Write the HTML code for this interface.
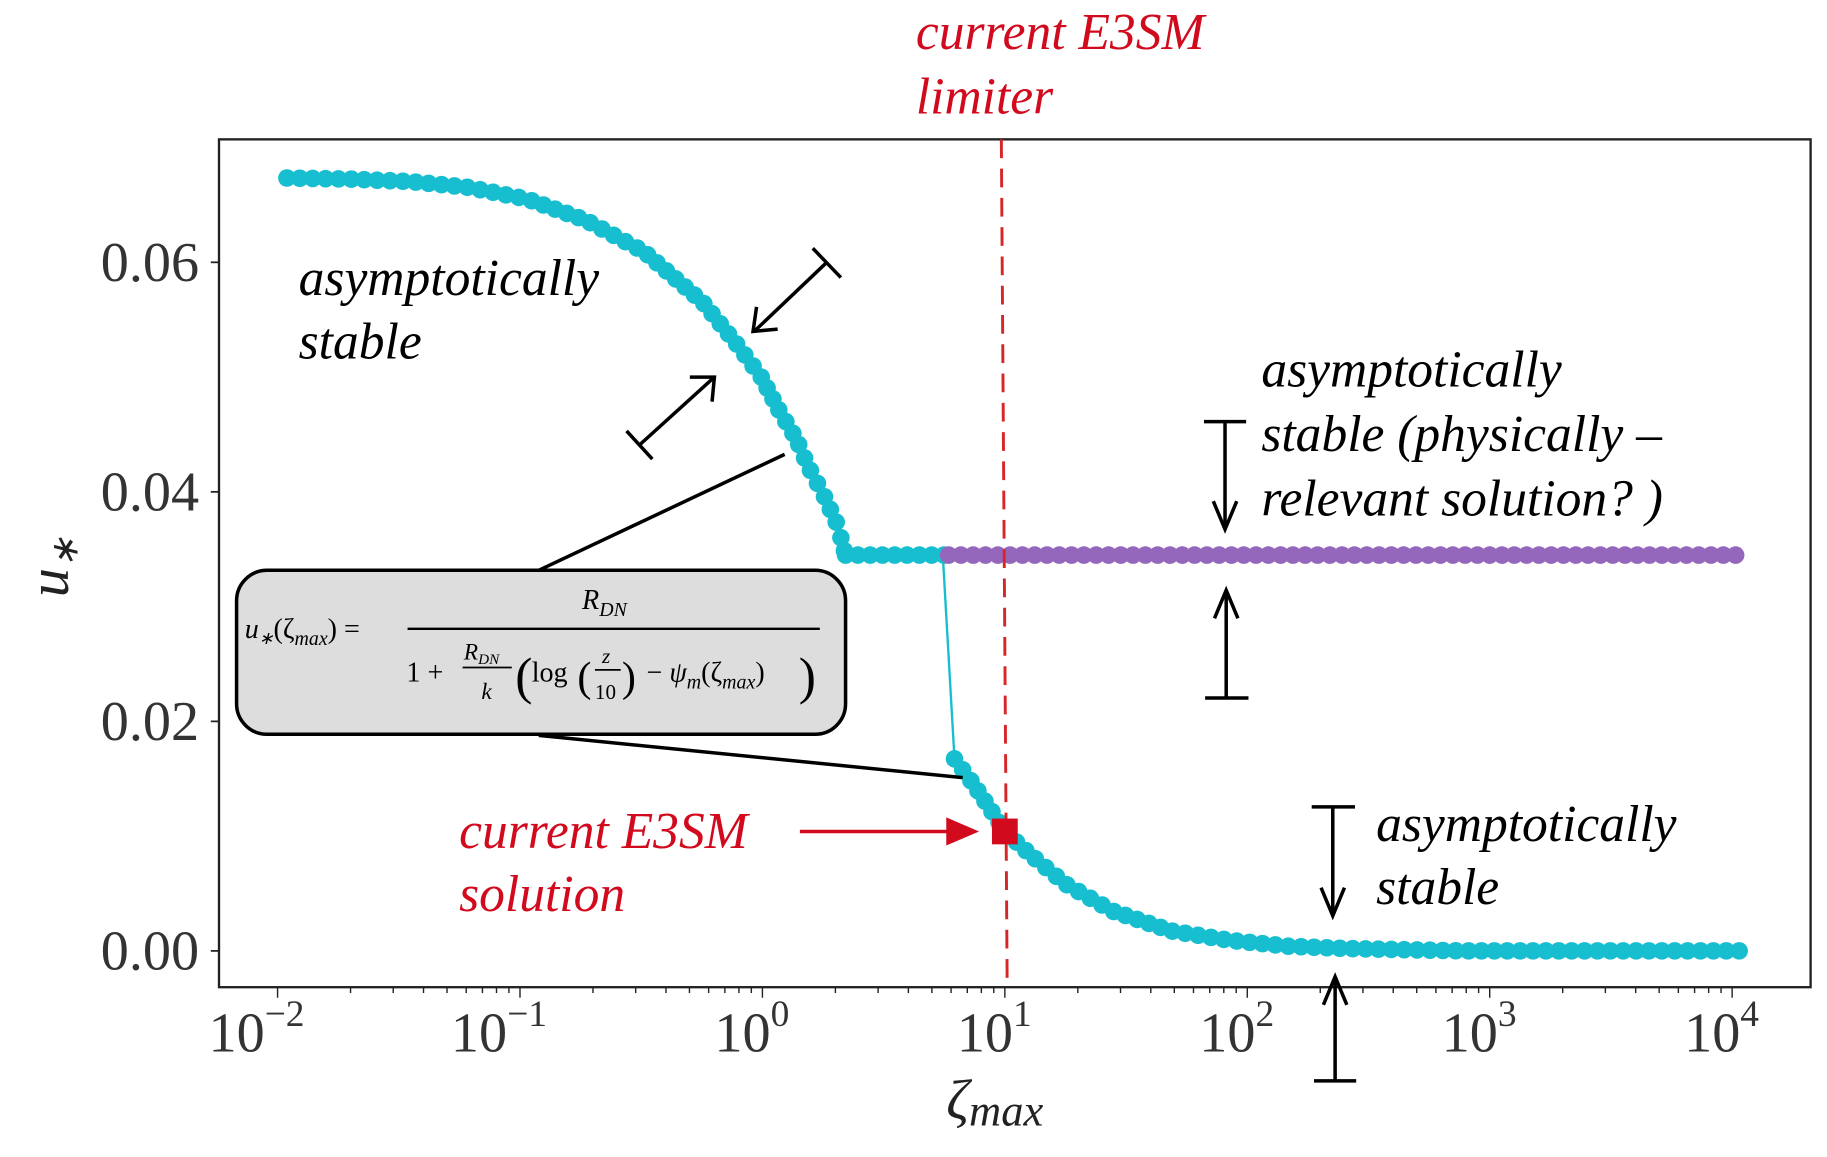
<!DOCTYPE html>
<html><head><meta charset="utf-8"><style>
html,body{margin:0;padding:0;background:#fff;}
svg{display:block}
.s{font-family:"Liberation Serif",serif;}
.i{font-family:"Liberation Serif",serif;font-style:italic;}
</style></head><body>
<svg id="g" width="1827" height="1157" viewBox="0 0 1560 988" preserveAspectRatio="none" xmlns="http://www.w3.org/2000/svg">
<rect x="0" y="0" width="1560" height="988" fill="#fff"/>
<rect x="187" y="119" width="1359" height="724" fill="none" stroke="#222" stroke-width="2"/>
<g stroke="#222" stroke-width="1.5">
<line x1="180" y1="224" x2="187" y2="224"/><line x1="180" y1="420" x2="187" y2="420"/>
<line x1="180" y1="616" x2="187" y2="616"/><line x1="180" y1="812" x2="187" y2="812"/>
</g>
<g id="xt" stroke="#222" stroke-width="1.2"></g>
<g class="s" font-size="48" fill="#333" text-anchor="end">
<text x="170" y="240">0.06</text><text x="170" y="436">0.04</text>
<text x="170" y="632">0.02</text><text x="170" y="828">0.00</text>
</g>
<g class="s" font-size="48" fill="#333">
<text x="178" y="898">10<tspan font-size="32" dy="-22">−2</tspan></text>
<text x="385" y="898">10<tspan font-size="32" dy="-22">−1</tspan></text>
<text x="610" y="898">10<tspan font-size="32" dy="-22">0</tspan></text>
<text x="817" y="898">10<tspan font-size="32" dy="-22">1</tspan></text>
<text x="1024" y="898">10<tspan font-size="32" dy="-22">2</tspan></text>
<text x="1231" y="898">10<tspan font-size="32" dy="-22">3</tspan></text>
<text x="1438" y="898">10<tspan font-size="32" dy="-22">4</tspan></text>
</g>
<text class="i" font-size="50" fill="#222" transform="translate(58,510) rotate(-90)">u<tspan font-size="32" dy="8">∗</tspan></text>
<text class="i" font-size="48" fill="#222" x="808" y="955">ζ<tspan font-size="38" dy="6">max</tspan></text>
<polyline points="805,474 815,648" fill="none" stroke="#17becf" stroke-width="2"/>
<polyline points="245,152 722,474 805,474" fill="none" stroke="#17becf" stroke-width="2" id="uline"/>
<g id="pts"></g>
<line x1="855" y1="119" x2="860" y2="843" stroke="#d62728" stroke-width="2.5" stroke-dasharray="16,9"/>
<rect x="847" y="699" width="22" height="22" fill="#d10a1e"/>
<line x1="683" y1="710" x2="815" y2="710" stroke="#d10a1e" stroke-width="3"/>
<polygon points="808,698 836,710 808,722" fill="#d10a1e"/>
<g class="i" font-size="44" fill="#d10a1e">
<text x="782" y="42">current E3SM</text><text x="782" y="97">limiter</text>
<text x="392" y="724">current E3SM</text><text x="392" y="778">solution</text>
</g>
<g class="i" font-size="44" fill="#000">
<text x="255" y="252">asymptotically</text><text x="255" y="306">stable</text>
<text x="1077" y="330">asymptotically</text><text x="1077" y="385">stable (physically –</text><text x="1077" y="440">relevant solution? )</text>
<text x="1175" y="718">asymptotically</text><text x="1175" y="772">stable</text>
</g>
<g stroke="#000" stroke-width="3" fill="none">
<line x1="706" y1="224" x2="645" y2="282"/><line x1="694" y1="212" x2="718" y2="237"/>
<polyline points="646,262 643,283 664,281"/>
<line x1="546" y1="380" x2="610" y2="322"/><line x1="535" y1="368" x2="557" y2="392"/>
<polyline points="589,322 610,322 608,343"/>
<line x1="1046" y1="360" x2="1046" y2="450"/><line x1="1028" y1="360" x2="1064" y2="360"/>
<polyline points="1036,428 1046,452 1056,428"/>
<line x1="1047" y1="596" x2="1047" y2="505"/><line x1="1029" y1="596" x2="1066" y2="596"/>
<polyline points="1037,528 1047,504 1057,528"/>
<line x1="1138" y1="689" x2="1138" y2="780"/><line x1="1120" y1="689" x2="1157" y2="689"/>
<polyline points="1128,758 1138,782 1148,758"/>
<line x1="1140" y1="923" x2="1140" y2="836"/><line x1="1122" y1="923" x2="1158" y2="923"/>
<polyline points="1130,858 1140,834 1150,858"/>
<line x1="460" y1="487" x2="670" y2="388"/><line x1="460" y1="628" x2="822" y2="664"/>
</g>
<rect x="202" y="487" width="520" height="140" rx="26" fill="#dddddd" stroke="#000" stroke-width="3"/>
<g class="i" font-size="24" fill="#000">
<text x="209" y="545">u<tspan font-size="15" dy="5">∗</tspan><tspan font-style="normal" dy="-5">(ζ</tspan><tspan font-size="17" dy="6">max</tspan><tspan font-style="normal" dy="-6">) =</tspan></text>
<text x="497" y="520">R<tspan font-size="17" dy="6">DN</tspan></text>
<text x="347" y="582" font-style="normal">1 +</text>
<text x="396" y="563" font-size="20">R<tspan font-size="13" dy="4">DN</tspan></text>
<line x1="395" y1="570" x2="437" y2="570" stroke="#000" stroke-width="1.5"/>
<text x="411" y="597" font-size="20">k</text>
<text x="440" y="592" font-style="normal" font-size="44">(</text>
<text x="454" y="582" font-style="normal">log</text>
<text x="493" y="590" font-style="normal" font-size="36">(</text>
<text x="514" y="566" font-size="18">z</text>
<line x1="508" y1="572" x2="530" y2="572" stroke="#000" stroke-width="1.5"/>
<text x="508" y="597" font-style="normal" font-size="18">10</text>
<text x="531" y="590" font-style="normal" font-size="36">)</text>
<text x="552" y="582"><tspan font-style="normal">− </tspan>ψ<tspan font-size="17" dy="6">m</tspan><tspan font-style="normal" dy="-6">(ζ</tspan><tspan font-size="17" dy="6">max</tspan><tspan font-style="normal" dy="-6">)</tspan></text>
<text x="682" y="592" font-style="normal" font-size="44">)</text>
</g>
<line x1="348" y1="537" x2="700" y2="537" stroke="#000" stroke-width="2"/>
</svg>
<script>
var ns="http://www.w3.org/2000/svg",g=document.getElementById('pts'),xt=document.getElementById('xt');
function interp(P,x){for(var i=0;i<P.length-1;i++){if(x>=P[i][0]&&x<=P[i+1][0]){var t=(x-P[i][0])/(P[i+1][0]-P[i][0]);return P[i][1]+t*(P[i+1][1]-P[i][1]);}}return P[P.length-1][1];}
var U=[[245,152],[300,153],[350,155],[400,160],[450,170],[500,188],[550,215],[600,258],[630,295],[650,322],[665,350],[680,375],[690,398],[703,422],[715,448],[722,474]];
var L=[[815,648],[830,668],[845,690],[858,710],[880,730],[910,755],[950,778],[1000,795],[1050,803],[1100,808],[1150,810],[1250,812],[1490,812]];
document.getElementById('uline').setAttribute('points',U.map(function(p){return p.join(",")}).join(" ")+" 805,474");
var pl=document.createElementNS(ns,'polyline');pl.setAttribute('points',L.map(function(p){return p.join(",")}).join(" "));pl.setAttribute('fill','none');pl.setAttribute('stroke','#17becf');pl.setAttribute('stroke-width','2');g.appendChild(pl);
function c(x,y,col){var e=document.createElementNS(ns,'circle');e.setAttribute('cx',x);e.setAttribute('cy',y);e.setAttribute('r',7.5);e.setAttribute('fill',col);g.appendChild(e);}
function along(P,x0,x1,step,col){var pts=[];for(var x=x0;x<=x1;x+=1)pts.push([x,interp(P,x)]);var acc=step;var last=pts[0];c(last[0],last[1],col);for(var i=1;i<pts.length;i++){var d=Math.hypot(pts[i][0]-last[0],pts[i][1]-last[1]);if(d>=step){c(pts[i][0],pts[i][1],col);last=pts[i];}}}
along(U,245,722,10.5,'#17becf');
for(var x=722;x<=806;x+=10.5)c(x,474,'#17becf');
for(var x=810;x<=1487;x+=10.5)c(x,474,'#9467bd');
along(L,815,1487,10.5,'#17becf');
for(var k=-2;k<=4;k++){var X=237+207*(k+2);
 var l=document.createElementNS(ns,'line');l.setAttribute('x1',X);l.setAttribute('x2',X);l.setAttribute('y1',843);l.setAttribute('y2',852);xt.appendChild(l);
 if(k<4)for(var m=2;m<10;m++){var xx=X+207*Math.log10(m);var q=document.createElementNS(ns,'line');q.setAttribute('x1',xx);q.setAttribute('x2',xx);q.setAttribute('y1',843);q.setAttribute('y2',848);xt.appendChild(q);}
}
</script>
</body></html>
